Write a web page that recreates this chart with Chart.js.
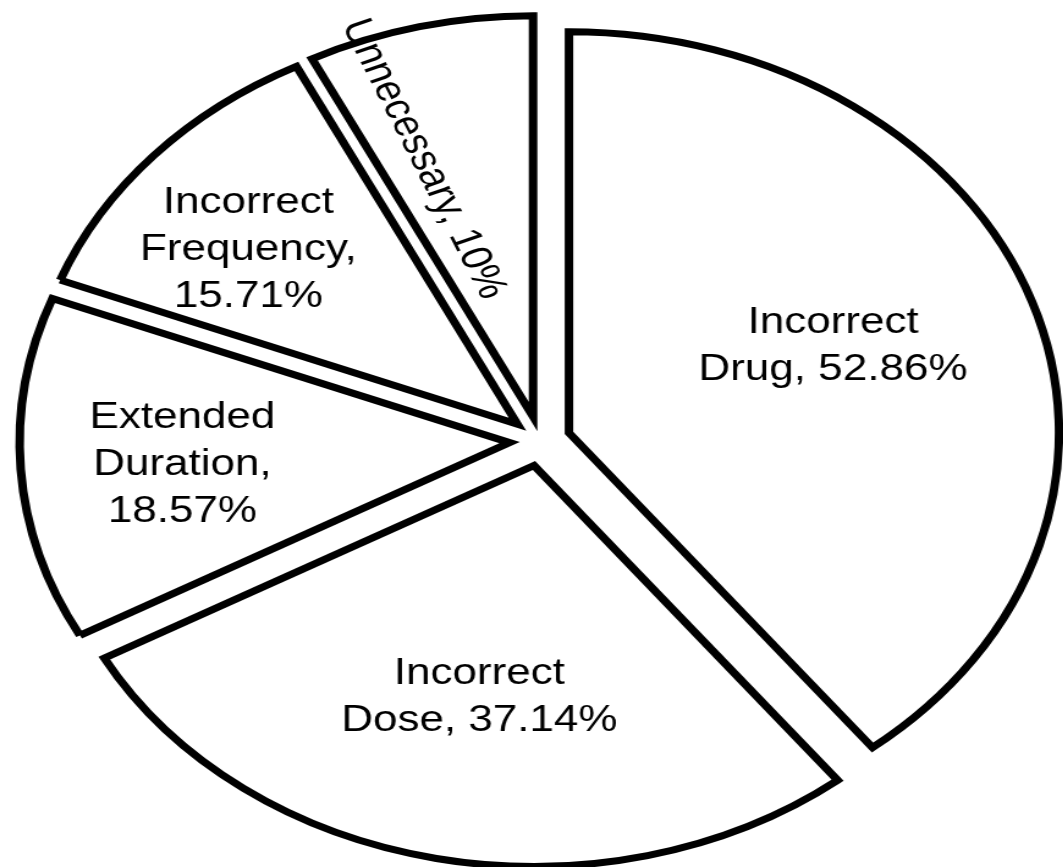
<!DOCTYPE html>
<html>
<head>
<meta charset="utf-8">
<script src="https://cdn.jsdelivr.net/npm/chart.js@4.4.0/dist/chart.umd.min.js"></script>
<style>
  html, body { margin: 0; padding: 0; background: #fff; overflow: hidden; }
  /* the original picture is stretched sideways, text included */
  #wrap { width: 870px; height: 867px; transform: scaleX(1.222); transform-origin: 0 0; }
</style>
</head>
<body>
<div id="wrap"><canvas id="pieChart" width="870" height="867"></canvas></div>
<script>
// data
const categories = ['Incorrect Drug', 'Incorrect Dose', 'Extended Duration', 'Incorrect Frequency', 'Unnecessary'];
const percentValues = [52.86, 37.14, 18.57, 15.71, 10];
const labelLines = [
  ['Incorrect', 'Drug, 52.86%'],
  ['Incorrect', 'Dose, 37.14%'],
  ['Extended', 'Duration,', '18.57%'],
  ['Incorrect', 'Frequency,', '15.71%'],
  ['Unnecessary, 10%']
];

// look of the slices and labels
const explodeBy = [25, 25, 25, 25, 25];
const labelRadius = [0.58, 0.59, 0.67, 0.70, 0.68];
const labelAngleShift = [-2.6, -0.6, -1, -3.8, -5.8];
const labelRotation = [0, 0, 0, 0, 67.3];

// every slice pushed out from the centre
const explodePlugin = {
  id: 'explode',
  beforeDatasetDraw(chart, args) {
    const ctx = chart.ctx;
    args.meta.data.forEach((arc, i) => {
      const mid = (arc.startAngle + arc.endAngle) / 2;
      ctx.save();
      ctx.translate(Math.cos(mid) * explodeBy[i], Math.sin(mid) * explodeBy[i]);
      arc.draw(ctx);
      ctx.restore();
    });
    return false;
  }
};

// text inside the slices
const sliceLabels = {
  id: 'sliceLabels',
  afterDatasetsDraw(chart) {
    const ctx = chart.ctx;
    const arcs = chart.getDatasetMeta(0).data;
    ctx.save();
    ctx.fillStyle = '#000';
    ctx.font = '36px "Liberation Sans", Arial, sans-serif';
    ctx.textAlign = 'center';
    ctx.textBaseline = 'middle';
    arcs.forEach((arc, i) => {
      const mid = (arc.startAngle + arc.endAngle) / 2;
      const a = mid + labelAngleShift[i] * Math.PI / 180;
      const r = arc.outerRadius * labelRadius[i];
      const x = arc.x + Math.cos(a) * r + Math.cos(mid) * explodeBy[i];
      const y = arc.y + Math.sin(a) * r + Math.sin(mid) * explodeBy[i];
      const lines = labelLines[i];
      const lh = 47;
      ctx.save();
      ctx.translate(x, y);
      ctx.rotate(labelRotation[i] * Math.PI / 180);
      lines.forEach((t, k) => {
        ctx.fillText(t, 0, (k - (lines.length - 1) / 2) * lh);
      });
      ctx.restore();
    });
    ctx.restore();
  }
};

const ctx = document.getElementById('pieChart').getContext('2d');
new Chart(ctx, {
  type: 'pie',
  data: {
    labels: categories,
    datasets: [{
      data: percentValues,
      backgroundColor: '#ffffff',
      borderColor: '#000000',
      borderWidth: 7,
      borderJoinStyle: 'miter'
    }]
  },
  options: {
    responsive: false,
    animation: false,
    radius: 401,
    layout: { padding: { left: 14, top: 15 } },
    plugins: {
      legend: { display: false },
      tooltip: { enabled: false }
    },
    events: []
  },
  plugins: [explodePlugin, sliceLabels]
});
</script>
</body>
</html>
